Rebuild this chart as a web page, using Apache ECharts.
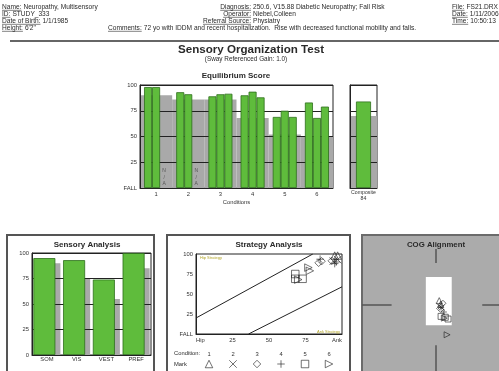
<!DOCTYPE html>
<html>
<head>
<meta charset="utf-8">
<script src="https://cdn.jsdelivr.net/npm/echarts@6/dist/echarts.min.js"></script>
<style>
html,body{margin:0;padding:0;background:#fff;}
#c{width:499px;height:371px;}
</style>
</head>
<body>
<div id="c"></div>
<script>
// ---- Equilibrium score (per condition, three trials) ----
const conditions = ['1', '2', '3', '4', '5', '6'];
const trial1 = [98, 93, 89, 90, 69, 83];
const trial2 = [98, 91, 91, 93.5, 75, 68];
const trial3 = [null, null, 91.5, 88, 69, 79];
const missingTrial3 = [true, true, false, false, false, false];
const normBand = [90, 86, 86, 68, 52, 50];
const eqTickLabels = ['FALL', '25', '50', '75', '100'];

// ---- Composite ----
const compositeCats = ['Composite'];
const compositeScore = [84];
const compositeNorm = [70];

// ---- Sensory analysis ----
const sensoryCats = ['SOM', 'VIS', 'VEST', 'PREF'];
const sensoryScores = [95, 93, 74, 100];
const sensoryNorms = [90, 75, 55, 85];
const sensoryTicks = ['0', '25', '50', '75', '100'];

// ---- Strategy analysis: [strategy score, equilibrium score] ----
const strategyTicks = ['Hip', '25', '50', '75', 'Ank'];
const strategyYTicks = ['FALL', '25', '50', '75', '100'];
const stratC1 = [[95, 98], [97, 98]];
const stratC2 = [[97, 93], [94, 91]];
const stratC3 = [[84, 89], [86, 91], [93, 91.5]];
const stratC4 = [[96, 90], [85, 93.5], [95, 88]];
const stratC5 = [[68, 69], [68, 75], [73, 69]];
const stratC6 = [[77, 83], [70, 68], [78, 79]];
const stratUpperLine = [[0, 20], [80, 100]];
const stratLowerLine = [[36, 0], [100, 59]];

// ---- COG alignment ----
const cogC1 = [[0.35, 0.5], [0.5, 0.1]];
const cogC2 = [[0.6, -0.3], [0.35, -0.1]];
const cogC3 = [[0.5, -0.5], [0.75, 0.2]];
const cogC4 = [[0.85, -0.8], [0.55, -0.3]];
const cogC5 = [[1.0, -1.4], [0.55, -1.3], [1.3, -1.6]];
const cogC6 = [[1.2, -3.4], [0.9, -1.5]];
const cogBox = [[-1.1, 3.2], [1.7, -2.3]];
const cogCross = [
  [[0, 4.8], [0, 6.4]],
  [[0, -4.6], [0, -8]],
  [[-8, 0], [-4.8, 0]],
  [[5, 0], [8, 0]]
];

// ---- Header fields ----
const leftFields = [['Name:', 'Neuropathy, Multisensory'], ['ID:', 'STUDY_333'], ['Date of Birth:', '1/1/1985'], ['Height:', '6\'2"']];
const midFields = [['Diagnosis:', '250.6, V15.88 Diabetic Neuropathy; Fall Risk'], ['Operator:', 'Niebel,Colleen'], ['Referral Source:', 'Physiatry']];
const commentField = ['Comments:', '72 yo with IDDM and recent hospitalization.  Rise with decreased functional mobility and falls.'];
const rightFields = [['File:', 'FS21.DRX'], ['Date:', '1/11/2006'], ['Time:', '10:50:13']];

const FONT = '"Liberation Sans", Arial, sans-serif';
const HF = '6.6px ' + FONT;
const GREEN = '#5fbc3c';
const GREEN_EDGE = '#2d6e1c';
const GRAY = '#a9a9a9';
const INK = '#2a2a2a';

const measureCtx = document.createElement('canvas').getContext('2d');
function textWidth(t, font) { measureCtx.font = font; return measureCtx.measureText(t).width; }

const graphics = [];
function txt(x, y, text, font, align, fill) {
  graphics.push({ type: 'text', x: x, y: y, z: 10,
    style: { text: text, font: font, fill: fill || INK, align: align || 'left', verticalAlign: 'middle' } });
}
function underline(x, y, w) {
  graphics.push({ type: 'line', z: 10, shape: { x1: x, y1: y, x2: x + w, y2: y },
    style: { stroke: INK, lineWidth: 0.6 } });
}
// label starting at x
function fieldLeft(x, y, f) {
  const lw = textWidth(f[0], HF);
  txt(x, y, f[0], HF); underline(x, y + 3.3, lw);
  txt(x + lw + 2, y, f[1], HF);
}
// label ending at x
function fieldRight(x, y, f) {
  const lw = textWidth(f[0], HF);
  txt(x - lw, y, f[0], HF); underline(x - lw, y + 3.3, lw);
  txt(x + 2, y, f[1], HF);
}
leftFields.forEach((f, i) => fieldLeft(2, 7 + i * 7, f));
midFields.forEach((f, i) => fieldRight(251, 7 + i * 7, f));
fieldLeft(108, 28, commentField);
rightFields.forEach((f, i) => fieldLeft(452, 7 + i * 7, f));

graphics.push({ type: 'line', z: 10, shape: { x1: 10, y1: 41, x2: 499, y2: 41 }, style: { stroke: '#333', lineWidth: 1.5 } });
txt(251, 50, 'Sensory Organization Test', 'bold 11.6px ' + FONT, 'center');
txt(246, 59, '(Sway Referenced Gain: 1.0)', '6.4px ' + FONT, 'center');
txt(236, 76, 'Equilibrium Score', 'bold 8px ' + FONT, 'center');

// panel frames
graphics.push({ type: 'rect', z: -5, shape: { x: 7, y: 235, width: 147, height: 150 },
  style: { fill: '#fff', stroke: '#555', lineWidth: 2 } });
graphics.push({ type: 'rect', z: -5, shape: { x: 167, y: 235, width: 183, height: 150 },
  style: { fill: '#fff', stroke: '#555', lineWidth: 2 } });
txt(87, 245, 'Sensory Analysis', 'bold 8px ' + FONT, 'center');
txt(269, 245, 'Strategy Analysis', 'bold 8px ' + FONT, 'center');
txt(436, 245, 'COG Alignment', 'bold 7.8px ' + FONT, 'center');
txt(174, 353, 'Condition:', '5.8px ' + FONT, 'left');
txt(174, 364, 'Mark', '5.8px ' + FONT, 'left');
txt(200, 258, 'Hip Strategy', '4px ' + FONT, 'left', '#b3a62a');
txt(340, 332, 'Ank Strategy', '4px ' + FONT, 'right', '#b3a62a');

const axisLbl = { fontSize: 5.8, color: '#333', fontFamily: FONT };
const darkSplit = { show: true, lineStyle: { color: '#222', width: 1 } };
const darkLine = { show: true, lineStyle: { color: '#222', width: 1 } };
const greenStyle = { color: GREEN, borderColor: GREEN_EDGE, borderWidth: 0.8 };
const hollow = { color: 'rgba(0,0,0,0)', borderColor: '#222', borderWidth: 0.8 };

const SYM_X = 'path://M0,0L10,10M0,10L10,0';
const SYM_PLUS = 'path://M5,0L5,10M0,5L10,5';
const SYM_RTRI = 'path://M0,0L10,5L0,10Z';
const condSymbols = ['triangle', SYM_X, 'diamond', SYM_PLUS, 'rect', SYM_RTRI];

function trialData(arr, missing) {
  return arr.map((v, i) => {
    if (missing && missing[i]) {
      return { value: 0, itemStyle: { borderWidth: 0 },
        label: { show: true, position: 'top', distance: 1, formatter: 'N\n/\nA',
          fontSize: 5, lineHeight: 6.5, color: '#555', fontFamily: FONT } };
    }
    return v;
  });
}

const stratSets = [stratC1, stratC2, stratC3, stratC4, stratC5, stratC6];
const cogSets = [cogC1, cogC2, cogC3, cogC4, cogC5, cogC6];

const option = {
  animation: false,
  backgroundColor: '#fff',
  graphic: { elements: graphics },
  grid: [
    { left: 140, top: 85, width: 193, height: 103, show: true, borderColor: '#222', borderWidth: 1, outerBoundsMode: 'none' },
    { left: 350, top: 85, width: 27, height: 103, show: true, borderColor: '#222', borderWidth: 1, outerBoundsMode: 'none' },
    { left: 32, top: 253, width: 119, height: 102, show: true, borderColor: '#222', borderWidth: 1, outerBoundsMode: 'none' },
    { left: 196, top: 254, width: 146, height: 80, show: true, borderColor: '#222', borderWidth: 1, outerBoundsMode: 'none' },
    { left: 197, top: 359, width: 144, height: 10, outerBoundsMode: 'none' },
    { left: 362, top: 235, width: 148, height: 140, show: true, backgroundColor: '#ababab', borderColor: '#6b6b6b', borderWidth: 2, outerBoundsMode: 'none' }
  ],
  xAxis: [
    { gridIndex: 0, type: 'category', data: conditions, axisTick: { show: false }, axisLine: darkLine,
      axisLabel: Object.assign({ margin: 3 }, axisLbl), name: 'Conditions', nameLocation: 'middle', nameGap: 11,
      nameTextStyle: { fontSize: 5.8, color: '#333', fontFamily: FONT } },
    { gridIndex: 0, type: 'category', data: conditions, show: false },
    { gridIndex: 1, type: 'category', data: compositeCats, axisTick: { show: false }, axisLine: darkLine,
      axisLabel: Object.assign({ margin: 2, lineHeight: 6, formatter: (v, i) => v + '\n' + compositeScore[i] }, axisLbl, { fontSize: 5.2 }) },
    { gridIndex: 1, type: 'category', data: compositeCats, show: false },
    { gridIndex: 2, type: 'category', data: sensoryCats, axisTick: { show: false }, axisLine: darkLine,
      axisLabel: Object.assign({ margin: 1 }, axisLbl), z: 4 },
    { gridIndex: 3, type: 'value', min: 0, max: 100, interval: 25, splitLine: { show: false }, axisLine: darkLine,
      axisTick: { show: false },
      axisLabel: Object.assign({ margin: 3, alignMinLabel: 'left', alignMaxLabel: 'right', formatter: v => strategyTicks[v / 25] }, axisLbl) },
    { gridIndex: 4, type: 'category', data: conditions, position: 'top', axisLine: { show: false }, axisTick: { show: false },
      axisLabel: Object.assign({ margin: 2 }, axisLbl) },
    { gridIndex: 5, type: 'value', min: -8, max: 8, show: false }
  ],
  yAxis: [
    { gridIndex: 0, type: 'value', min: 0, max: 100, interval: 25, z: 2, splitLine: darkSplit, axisLine: darkLine,
      axisTick: { show: false }, axisLabel: Object.assign({ margin: 3, formatter: v => eqTickLabels[v / 25] }, axisLbl) },
    { gridIndex: 1, type: 'value', min: 0, max: 100, interval: 25, z: 2, splitLine: darkSplit, axisLine: darkLine,
      axisTick: { show: false }, axisLabel: { show: false } },
    { gridIndex: 2, type: 'value', min: 0, max: 100, interval: 25, z: 2, splitLine: darkSplit, axisLine: darkLine,
      axisTick: { show: false }, axisLabel: Object.assign({ margin: 3, formatter: v => sensoryTicks[v / 25] }, axisLbl) },
    { gridIndex: 3, type: 'value', min: 0, max: 100, interval: 25, splitLine: { show: false }, axisLine: darkLine,
      axisTick: { show: false }, axisLabel: Object.assign({ margin: 3, formatter: v => strategyYTicks[v / 25] }, axisLbl) },
    { gridIndex: 4, type: 'value', min: 0, max: 1, show: false },
    { gridIndex: 5, type: 'value', min: -8, max: 8, show: false }
  ],
  series: [
    // equilibrium: normative band + three trials
    { type: 'bar', xAxisIndex: 1, yAxisIndex: 0, data: normBand, barWidth: '100%', z: 1, silent: true,
      itemStyle: { color: GRAY } },
    { type: 'bar', xAxisIndex: 0, yAxisIndex: 0, data: trialData(trial1), barWidth: 8, barGap: '0%', z: 3, itemStyle: greenStyle },
    { type: 'bar', xAxisIndex: 0, yAxisIndex: 0, data: trialData(trial2), barWidth: 8, barGap: '0%', z: 3, itemStyle: greenStyle },
    { type: 'bar', xAxisIndex: 0, yAxisIndex: 0, data: trialData(trial3, missingTrial3), barWidth: 8, barGap: '0%', z: 3, itemStyle: greenStyle },
    // composite
    { type: 'bar', xAxisIndex: 3, yAxisIndex: 1, data: compositeNorm, barWidth: '100%', z: 1, itemStyle: { color: GRAY } },
    { type: 'bar', xAxisIndex: 2, yAxisIndex: 1, data: compositeScore, barWidth: 15, z: 3, itemStyle: greenStyle },
    // sensory analysis
    { type: 'bar', xAxisIndex: 4, yAxisIndex: 2, data: sensoryScores, barWidth: 22, barGap: '-77%', z: 3, itemStyle: greenStyle },
    { type: 'bar', xAxisIndex: 4, yAxisIndex: 2, data: sensoryNorms, barWidth: 22, barGap: '-77%', z: 1, itemStyle: { color: GRAY } },
    // strategy analysis boundary lines
    { type: 'line', xAxisIndex: 5, yAxisIndex: 3, data: stratUpperLine, symbol: 'none', z: 2,
      lineStyle: { color: '#222', width: 1 } },
    { type: 'line', xAxisIndex: 5, yAxisIndex: 3, data: stratLowerLine, symbol: 'none', z: 2,
      lineStyle: { color: '#222', width: 1 } },
    ...stratSets.map((d, i) => ({ type: 'scatter', xAxisIndex: 5, yAxisIndex: 3, data: d, symbol: condSymbols[i],
      symbolSize: 7.5, z: 3, itemStyle: hollow })),
    // condition / mark key
    { type: 'scatter', xAxisIndex: 6, yAxisIndex: 4, z: 3, symbolSize: 7.5, itemStyle: hollow,
      data: conditions.map((c, i) => ({ value: 0.5, symbol: condSymbols[i] })) },
    // COG alignment: target box and crosshair
    { type: 'line', xAxisIndex: 7, yAxisIndex: 5, data: [], z: 1, silent: true,
      markArea: { silent: true, itemStyle: { color: '#fff' }, data: [[{ coord: cogBox[0] }, { coord: cogBox[1] }]] },
      markLine: { silent: true, symbol: 'none', label: { show: false }, lineStyle: { color: '#555', width: 1.5, type: 'solid' },
        data: cogCross.map(s => [{ coord: s[0] }, { coord: s[1] }]) } },
    ...cogSets.map((d, i) => ({ type: 'scatter', xAxisIndex: 7, yAxisIndex: 5, data: d, symbol: condSymbols[i],
      symbolSize: 6, z: 3, itemStyle: hollow }))
  ]
};

const chart = echarts.init(document.getElementById('c'));
chart.setOption(option);
</script>
</body>
</html>
